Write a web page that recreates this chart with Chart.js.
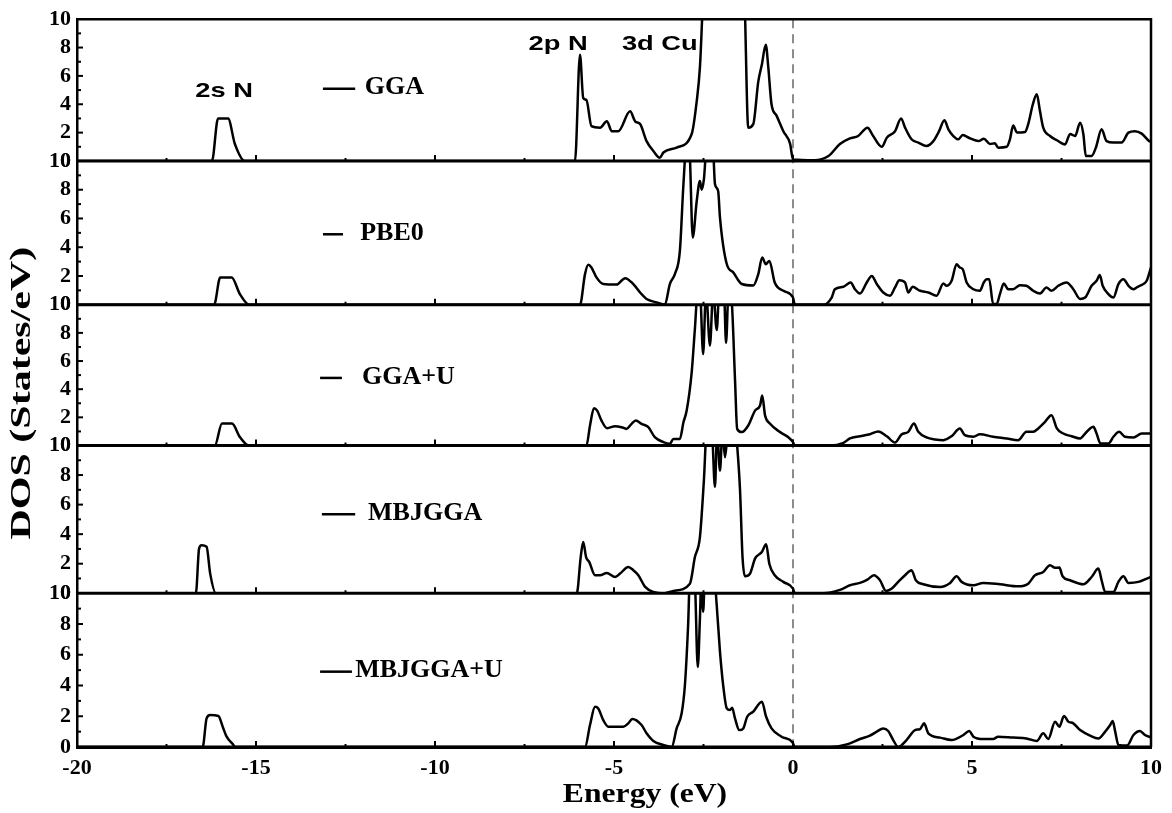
<!DOCTYPE html>
<html>
<head>
<meta charset="utf-8">
<script src="https://cdn.jsdelivr.net/npm/chart.js@4.4.1/dist/chart.umd.min.js"></script>
<style>
  html, body { margin: 0; padding: 0; background: #fff; }
  #wrap { position: relative; width: 1172px; height: 813px; }
</style>
</head>
<body>
<div id="wrap"><canvas id="dosChart"></canvas></div>
<script>
// panel names, top to bottom
const methods = ['GGA', 'PBE0', 'GGA+U', 'MBJGGA', 'MBJGGA+U'];

// energies (eV) and DOS (states/eV), one pair of arrays per panel
const ggaEnergy = [
  -20, -16.23, -16.06, -15.78, -15.59, -15.31, -6.09, -5.95, -5.86, -5.77,
  -5.63, -5.39, -5.2, -5.06, -4.88, -4.55, -4.41, -4.27, -4.09, -3.9,
  -3.72, -3.62, -3.25, -2.83, -2.69, -2.6, -2.5, -2.4, -1.45, -1.36,
  -1.25, -1.11, -0.97, -0.87, -0.76, -0.69, -0.6, -0.46, -0.27, -0.08,
  0, 0.6, 0.99, 1.31, 1.59, 1.82, 2.08, 2.24, 2.48, 2.62,
  2.85, 3.02, 3.13, 3.31, 3.5, 3.73, 3.92, 4.08, 4.23, 4.34,
  4.48, 4.62, 4.74, 4.94, 5.18, 5.33, 5.5, 5.64, 5.73, 5.97,
  6.06, 6.15, 6.26, 6.48, 6.57, 6.7, 6.81, 6.9, 6.99, 7.18,
  7.37, 7.6, 7.74, 7.88, 8.02, 8.11, 8.18, 8.34, 8.46, 8.62,
  8.76, 8.95, 9.18, 9.37, 9.55, 9.74, 9.95, 10
];
const ggaDos = [
  0, 0, 3.0, 3.0, 1.2, 0, 0, 7.5, 4.45, 4.3,
  2.46, 2.35, 2.8, 2.1, 2.1, 3.5, 2.8, 2.6, 1.4, 0.7,
  0.23, 0.6, 0.94, 1.9, 4.2, 6.6, 12, 14, 14, 12,
  2.35, 2.6, 5.6, 6.8, 8.2, 6.6, 4.0, 3.2, 2.1, 1.2,
  0.1, 0.05, 0.35, 1.2, 1.6, 1.76, 2.35, 1.76, 1.0, 1.64,
  2.1, 3.0, 2.35, 1.53, 1.3, 1.06, 1.4, 2.1, 2.87, 2.23,
  1.76, 1.53, 1.83, 1.6, 1.4, 1.57, 1.2, 1.25, 0.94, 1.0,
  1.53, 2.5, 2.0, 2.04, 2.6, 4.0, 4.7, 3.5, 2.35, 1.76,
  1.46, 1.17, 1.9, 1.76, 2.7, 1.9, 0.35, 0.35, 0.94, 2.23,
  1.4, 1.3, 1.3, 2.0, 2.1, 1.93, 1.4, 1.35
];

const pbe0Energy = [
  -20, -16.17, -16.0, -15.68, -15.45, -15.19, -5.95, -5.81, -5.72, -5.63,
  -5.49, -5.3, -4.93, -4.69, -4.46, -4.27, -4.09, -3.81, -3.58, -3.44,
  -3.3, -3.16, -3.06, -2.98, -2.9, -2.8, -2.69, -2.6, -2.55, -2.49,
  -2.41, -2.24, -2.18, -2.09, -2.04, -1.85, -1.67, -1.43, -1.11, -0.97,
  -0.86, -0.76, -0.66, -0.51, -0.27, 0, 0.05, 0.85, 1.08, 1.17,
  1.41, 1.61, 1.73, 1.87, 2.06, 2.2, 2.34, 2.52, 2.71, 2.85,
  2.97, 3.13, 3.22, 3.34, 3.55, 3.78, 4.01, 4.2, 4.29, 4.43,
  4.57, 4.66, 4.74, 4.85, 5.04, 5.22, 5.33, 5.41, 5.48, 5.59,
  5.69, 5.78, 5.89, 6.01, 6.15, 6.34, 6.52, 6.71, 6.9, 7.08,
  7.22, 7.41, 7.64, 7.83, 8.02, 8.16, 8.34, 8.48, 8.57, 8.65,
  8.81, 8.95, 9.09, 9.23, 9.37, 9.51, 9.6, 9.69, 9.88, 10
];
const pbe0Dos = [
  0, 0, 1.9, 1.9, 0.74, 0, 0, 2.13, 2.78, 2.59,
  1.9, 1.44, 1.4, 1.85, 1.44, 0.85, 0.4, 0.16, 0, 1.44,
  2.13, 3.75, 8.4, 11, 11, 4.68, 7.2, 8.6, 8.0, 8.7,
  11, 11, 8.4, 7.9, 6.06, 2.83, 2.25, 1.44, 1.34, 2.13,
  3.29, 2.82, 3.05, 1.55, 0.97, 0.5, 0, 0, 0.5, 1.08,
  1.25, 1.55, 1.08, 0.78, 1.55, 2.0, 1.44, 0.85, 0.63, 1.2,
  1.71, 1.55, 0.85, 1.25, 0.97, 0.85, 0.63, 1.48, 1.32, 1.67,
  2.82, 2.59, 2.48, 1.55, 1.08, 0.97, 1.55, 1.78, 1.78, 0.05,
  0.05, 0.74, 1.48, 1.08, 1.08, 1.36, 1.32, 0.97, 0.78, 1.2,
  0.97, 1.32, 1.55, 1.08, 0.4, 0.5, 1.32, 1.67, 2.06, 1.32,
  0.74, 0.5, 1.44, 1.78, 1.32, 1.08, 1.2, 1.32, 1.67, 2.6
];

const ggauEnergy = [
  -20, -16.15, -15.95, -15.67, -15.45, -15.2, -5.77, -5.67, -5.56, -5.47,
  -5.35, -5.19, -4.97, -4.79, -4.65, -4.51, -4.39, -4.23, -4.04, -3.86,
  -3.62, -3.44, -3.34, -3.16, -3.06, -2.97, -2.83, -2.74, -2.66, -2.6,
  -2.51, -2.43, -2.32, -2.23, -2.13, -2.06, -1.93, -1.87, -1.8, -1.72,
  -1.62, -1.56, -1.43, -1.25, -1.06, -0.92, -0.86, -0.78, -0.64, -0.36,
  -0.13, 0, 0.05, 1.03, 1.41, 1.59, 1.87, 2.15, 2.38, 2.62,
  2.85, 3.03, 3.22, 3.38, 3.5, 3.73, 3.97, 4.2, 4.43, 4.66,
  4.8, 5.04, 5.22, 5.59, 5.97, 6.29, 6.52, 6.71, 6.85, 7.04,
  7.22, 7.37, 7.55, 7.78, 8.02, 8.16, 8.3, 8.39, 8.48, 8.59,
  8.81, 8.95, 9.11, 9.27, 9.51, 9.74, 9.93, 10
];
const ggauDos = [
  0, 0, 1.56, 1.56, 0.6, 0, 0, 1.42, 2.65, 2.48,
  1.77, 1.23, 1.37, 1.3, 1.18, 1.54, 1.77, 1.54, 1.3, 0.59,
  0.24, 0.12, 0.47, 0.47, 1.65, 2.48, 5.2, 8.3, 11, 11,
  6.5, 11, 7.1, 11, 8.2, 11, 11, 7.3, 11, 10.5,
  4.7, 1.18, 0.95, 1.42, 2.48, 2.84, 3.55, 2.13, 1.54, 0.95,
  0.59, 0.24, 0, 0, 0.19, 0.5, 0.66, 0.8, 1.0, 0.66,
  0.21, 0.78, 0.97, 1.56, 0.97, 0.57, 0.43, 0.38, 0.66, 1.21,
  0.73, 0.62, 0.8, 0.62, 0.5, 0.38, 0.97, 0.97, 1.21, 1.68,
  2.15, 1.21, 0.85, 0.66, 0.5, 0.85, 1.21, 1.33, 0.85, 0.14,
  0.14, 0.62, 0.97, 0.62, 0.57, 0.85, 0.85, 0.85
];

const mbjEnergy = [
  -20, -16.68, -16.59, -16.52, -16.38, -16.28, -16.12, -6.04, -5.93, -5.86,
  -5.78, -5.69, -5.53, -5.39, -5.2, -4.97, -4.83, -4.6, -4.46, -4.32,
  -4.13, -3.9, -3.58, -3.34, -2.88, -2.74, -2.6, -2.49, -2.41, -2.27,
  -2.18, -2.12, -2.04, -1.97, -1.9, -1.81, -1.6, -1.56, -1.48, -1.41,
  -1.34, -1.2, -1.06, -0.87, -0.75, -0.66, -0.51, -0.27, 0, 0.05,
  0.85, 1.31, 1.59, 1.87, 2.08, 2.26, 2.43, 2.6, 2.76, 2.94,
  3.13, 3.31, 3.43, 3.64, 4.11, 4.39, 4.57, 4.71, 5.04, 5.31,
  5.78, 6.29, 6.57, 6.76, 6.99, 7.18, 7.32, 7.44, 7.53, 7.74,
  8.11, 8.34, 8.53, 8.62, 8.72, 8.95, 9.09, 9.23, 9.37, 9.65,
  9.95, 10
];
const mbjDos = [
  0, 0, 3.02, 3.25, 3.15, 1.33, 0, 0, 2.45, 3.47,
  2.45, 2.11, 1.22, 1.22, 1.37, 1.1, 1.33, 1.78, 1.56, 1.22,
  0.43, 0.09, 0, 0.16, 0.65, 2.45, 3.8, 7.6, 11, 11,
  7.2, 11, 8.3, 11, 9.2, 11, 11, 10, 7.0, 2.45,
  1.15, 1.33, 2.34, 2.79, 3.31, 1.98, 1.22, 0.77, 0.32, 0,
  0, 0.23, 0.54, 0.7, 0.92, 1.22, 0.88, 0.16, 0.32, 0.77,
  1.22, 1.56, 0.88, 0.61, 0.43, 0.7, 1.15, 0.77, 0.54, 0.7,
  0.61, 0.47, 0.65, 1.22, 1.44, 1.9, 1.72, 1.74, 1.15, 0.88,
  0.61, 1.1, 1.67, 0.88, 0.09, 0.09, 0.77, 1.15, 0.7, 0.77,
  1.06, 1.1
];

const mbjuEnergy = [
  -20, -16.49, -16.38, -16.28, -16.05, -15.93, -15.82, -15.63, -15.59, -5.81,
  -5.67, -5.53, -5.44, -5.3, -5.16, -4.74, -4.6, -4.49, -4.23, -4.09,
  -3.9, -3.62, -3.39, -3.25, -3.11, -3.02, -2.93, -2.88, -2.75, -2.66,
  -2.6, -2.56, -2.51, -2.46, -2.2, -2.13, -2.04, -1.95, -1.85, -1.76,
  -1.7, -1.62, -1.5, -1.39, -1.28, -1.11, -0.87, -0.75, -0.6, -0.32,
  -0.01, 0.05, 1.03, 1.5, 1.87, 2.15, 2.34, 2.52, 2.66, 2.8,
  2.94, 3.17, 3.41, 3.55, 3.66, 3.78, 4.11, 4.43, 4.76, 4.92,
  5.04, 5.31, 5.59, 5.73, 6.15, 6.52, 6.81, 6.99, 7.13, 7.32,
  7.44, 7.57, 7.69, 7.83, 8.02, 8.3, 8.53, 8.72, 8.86, 8.93,
  9.0, 9.09, 9.33, 9.51, 9.69, 9.83, 9.95, 10
];
const mbjuDos = [
  0, 0, 1.86, 2.08, 2.02, 1.32, 0.67, 0.13, 0, 0,
  1.43, 2.62, 2.51, 1.75, 1.32, 1.32, 1.54, 1.82, 1.43, 0.89,
  0.39, 0.13, 0, 1.21, 2.19, 4.0, 7.9, 11, 11, 5.2,
  8.35, 11, 8.8, 11, 11, 9.2, 6.2, 4.0, 2.51, 2.4,
  2.55, 1.86, 1.1, 1.21, 1.97, 2.3, 2.95, 1.97, 1.21, 0.67,
  0.3, 0, 0, 0.17, 0.52, 0.74, 1.0, 1.21, 1.04, 0.45,
  0, 0.45, 1.1, 1.17, 1.54, 0.89, 0.61, 0.45, 0.78, 1.04,
  0.67, 0.52, 0.52, 0.67, 0.61, 0.56, 0.39, 0.89, 0.52, 1.65,
  1.32, 2.02, 1.65, 1.54, 1.1, 0.74, 0.56, 1.0, 1.43, 1.69,
  1.0, 0.13, 0.09, 0.78, 1.04, 0.78, 0.67, 0.65
];

const energyTicks = [-20, -15, -10, -5, 0, 5, 10];
const dosTicks = [0, 2, 4, 6, 8, 10];

const panels = [
  { axis: 'y1', energy: ggaEnergy, dos: ggaDos, weight: 142 },
  { axis: 'y2', energy: pbe0Energy, dos: pbe0Dos, weight: 144 },
  { axis: 'y3', energy: ggauEnergy, dos: ggauDos, weight: 141 },
  { axis: 'y4', energy: mbjEnergy, dos: mbjDos, weight: 148 },
  { axis: 'y5', energy: mbjuEnergy, dos: mbjuDos, weight: 154 }
];

const SERIF = '"Liberation Serif", "Times New Roman", serif';
const SANS = '"Liberation Sans", Arial, sans-serif';

function drawText(ctx, text, x, y, font, sx, align, rotate) {
  ctx.save();
  ctx.translate(x, y);
  if (rotate) ctx.rotate(rotate);
  ctx.scale(sx, 1);
  ctx.font = font;
  ctx.fillStyle = '#000';
  ctx.textAlign = align;
  ctx.textBaseline = 'middle';
  ctx.fillText(text, 0, 0);
  ctx.restore();
}

// frames, inner ticks, Fermi level and in-panel labels
const panelDecor = {
  id: 'panelDecor',
  beforeDatasetsDraw(chart) {
    const { ctx, chartArea } = chart;
    const x0 = chart.scales.x.getPixelForValue(0);
    ctx.save();
    ctx.strokeStyle = '#8c8c8c';
    ctx.lineWidth = 2;
    ctx.setLineDash([9, 6]);
    ctx.beginPath();
    ctx.moveTo(x0, chartArea.top);
    ctx.lineTo(x0, chartArea.bottom);
    ctx.stroke();
    ctx.restore();
  },
  afterDatasetsDraw(chart) {
    const { ctx, chartArea } = chart;
    const xs = chart.scales.x;
    ctx.save();
    ctx.strokeStyle = '#000';

    panels.forEach(p => {
      const ys = chart.scales[p.axis];
      // panel bottom line
      ctx.lineWidth = 3;
      ctx.beginPath();
      ctx.moveTo(chartArea.left, ys.bottom);
      ctx.lineTo(chartArea.right, ys.bottom);
      ctx.stroke();
      // x ticks pointing up into the panel
      ctx.lineWidth = 2;
      for (let v = -20; v <= 10; v += 2.5) {
        const px = xs.getPixelForValue(v);
        const len = v % 5 === 0 ? 6 : 3;
        ctx.beginPath();
        ctx.moveTo(px, ys.bottom);
        ctx.lineTo(px, ys.bottom - len);
        ctx.stroke();
      }
      // y ticks
      for (let v = 1; v < 10; v++) {
        const py = ys.getPixelForValue(v);
        const len = v % 2 === 0 ? 6 : 4;
        ctx.beginPath();
        ctx.moveTo(chartArea.left, py);
        ctx.lineTo(chartArea.left + len, py);
        ctx.stroke();
      }
    });

    // top and right frame
    ctx.lineWidth = 2.5;
    ctx.beginPath();
    ctx.moveTo(chartArea.left, chartArea.top);
    ctx.lineTo(chartArea.right, chartArea.top);
    ctx.lineTo(chartArea.right, chartArea.bottom);
    ctx.stroke();

    // method labels with their short line marker
    const spots = [
      { from: -13.13, to: -12.23, text: -11.96, y: 5.1 },
      { from: -13.13, to: -12.57, text: -12.09, y: 4.9 },
      { from: -13.21, to: -12.6, text: -12.04, y: 4.8 },
      { from: -13.16, to: -12.23, text: -11.87, y: 5.35 },
      { from: -13.21, to: -12.32, text: -12.23, y: 4.9 }
    ];
    panels.forEach((p, i) => {
      const ys = chart.scales[p.axis];
      const s = spots[i];
      const py = ys.getPixelForValue(s.y);
      ctx.lineWidth = 2.5;
      ctx.beginPath();
      ctx.moveTo(xs.getPixelForValue(s.from), py);
      ctx.lineTo(xs.getPixelForValue(s.to), py);
      ctx.stroke();
      drawText(ctx, methods[i], xs.getPixelForValue(s.text), py - 1,
        'bold 26px ' + SERIF, 1, 'left');
    });

    // orbital annotations in the top panel
    const y1 = chart.scales.y1;
    [['2s N', -15.89, 4.93], ['2p N', -6.56, 8.24], ['3d Cu', -3.72, 8.24]].forEach(a => {
      drawText(ctx, a[0], xs.getPixelForValue(a[1]), y1.getPixelForValue(a[2]),
        'bold 21px ' + SANS, 1.3, 'center');
    });
    ctx.restore();
  },
  afterDraw(chart) {
    const { ctx, chartArea } = chart;
    drawText(ctx, 'Energy (eV)', (chartArea.left + chartArea.right) / 2 + 31, 795,
      'bold 28px ' + SERIF, 1.13, 'center');
    drawText(ctx, 'DOS (States/eV)', 22, (chartArea.top + chartArea.bottom) / 2 + 10,
      'bold 30px ' + SERIF, 1.4, 'center', -Math.PI / 2);
  }
};

function yAxis(weight) {
  return {
    type: 'linear',
    position: 'left',
    stack: 'dos',
    stackWeight: weight,
    min: 0,
    max: 10,
    afterBuildTicks(scale) { scale.ticks = dosTicks.map(v => ({ value: v })); },
    ticks: {
      autoSkip: false,
      padding: 6,
      color: '#000',
      font: { family: SERIF, weight: 'bold', size: 22 }
    },
    grid: { drawOnChartArea: false, drawTicks: false },
    border: { display: true, color: '#000', width: 2.5 },
    afterFit(scale) { scale.width = 45; }
  };
}

// bottom panel first: stacked left axes are laid out from the last one down
const scales = {
  x: {
    type: 'linear',
    position: 'bottom',
    min: -20,
    max: 10,
    afterBuildTicks(scale) { scale.ticks = energyTicks.map(v => ({ value: v })); },
    ticks: {
      autoSkip: false,
      padding: 8,
      maxRotation: 0,
      color: '#000',
      font: { family: SERIF, weight: 'bold', size: 22 }
    },
    grid: { drawOnChartArea: false, drawTicks: false },
    border: { display: true, color: '#000', width: 3 },
    afterFit(scale) { scale.height = 61; }
  }
};
panels.slice().reverse().forEach(p => { scales[p.axis] = yAxis(p.weight); });

new Chart(document.getElementById('dosChart'), {
  type: 'line',
  data: {
    datasets: panels.map((p, i) => ({
      label: methods[i],
      yAxisID: p.axis,
      xAxisID: 'x',
      data: p.energy.map((e, k) => ({ x: e, y: p.dos[k] })),
      borderColor: '#000',
      borderWidth: 2.5,
      pointRadius: 0,
      cubicInterpolationMode: 'monotone',
      fill: false
    }))
  },
  options: {
    responsive: true,
    maintainAspectRatio: false,
    animation: false,
    layout: { padding: { left: 32, right: 21, top: 18, bottom: 5 } },
    plugins: {
      legend: { display: false },
      tooltip: { enabled: false },
      title: { display: false }
    },
    scales: scales
  },
  plugins: [panelDecor]
});
</script>
</body>
</html>
